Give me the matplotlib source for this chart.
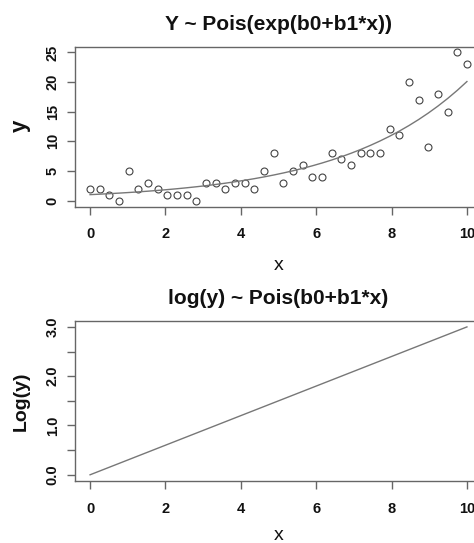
import numpy as np
import matplotlib
matplotlib.use("Agg")
import matplotlib.pyplot as plt

plt.rcParams['font.family'] = ['Liberation Sans', 'DejaVu Sans']

# Data
x_vals = np.linspace(0, 10, 40)
y_counts = [2, 2, 1, 0, 5, 2, 3, 2, 1, 1,
            1, 0, 3, 3, 2, 3, 3, 2, 5, 8,
            3, 5, 6, 4, 4, 8, 7, 6, 8, 8,
            8, 12, 11, 20, 17, 9, 18, 15, 25, 23]
b0 = 0.0   # fitted intercept (log scale)
b1 = 0.3   # fitted slope (log scale)

top_yticks = [0, 5, 10, 15, 20, 25]
bot_yticks = [0.0, 0.5, 1.0, 1.5, 2.0, 2.5, 3.0]
bot_ylabels = ["0.0", "", "1.0", "", "2.0", "", "3.0"]
xticks = [0, 2, 4, 6, 8, 10]

log_fit = b0 + b1 * x_vals
fit = np.exp(log_fit)

fig = plt.figure(figsize=(4.74, 5.43), dpi=100)
W, H = 474, 543

def axes_px(left, top, right, bottom):
    return fig.add_axes([left / W, 1 - bottom / H, (right - left) / W, (bottom - top) / H])

def fig_text(xp, yp, s, **kw):
    fig.text(xp / W, 1 - yp / H, s, ha='center', va='center', **kw)

ax1 = axes_px(75, 46.5, 482, 206.5)
ax2 = axes_px(75, 321, 482, 480.7)

spine_col = '#666666'
text_col = '#111111'
for ax in (ax1, ax2):
    for s in ax.spines.values():
        s.set_color(spine_col)
        s.set_linewidth(1.0)
    ax.set_xlim(-0.4, 10.4)
    ax.set_xticks(xticks)
    ax.set_xticklabels([str(t) for t in xticks])
    ax.tick_params(axis='both', colors=spine_col, labelcolor=text_col,
                   length=6, width=1.0, labelsize=10.5)
    ax.tick_params(axis='x', pad=9)
    ax.tick_params(axis='y', pad=5)
    for lab in ax.get_xticklabels() + ax.get_yticklabels():
        lab.set_fontweight('bold')

ax1.plot(x_vals, y_counts, 'o', mfc='none', mec='#444444', ms=5, mew=0.8)
ax1.plot(x_vals, fit, '-', color='#777777', lw=1.0)
ax1.set_ylim(-1, 26)
ax1.set_yticks(top_yticks)
ax1.set_yticklabels([str(t) for t in top_yticks], rotation=90, va='center', fontweight='bold')

ax2.plot(x_vals, log_fit, '-', color='#777777', lw=1.0)
ax2.set_ylim(-0.12, 3.12)
ax2.set_yticks(bot_yticks)
ax2.set_yticklabels(bot_ylabels, rotation=90, va='center', fontweight='bold')

title_kw = dict(fontsize=15, fontweight='bold', color=text_col)
label_kw = dict(fontsize=14, color=text_col)
fig_text(278.5, 25, "Y ~ Pois(exp(b0+b1*x))", **title_kw)
fig_text(278.5, 298, "log(y) ~ Pois(b0+b1*x)", **title_kw)
fig_text(279, 265, "x", **label_kw)
fig_text(279, 536, "x", **label_kw)
fig_text(20, 126, "y", rotation=90, fontweight='bold', fontsize=16, color=text_col)
fig_text(21, 401, "Log(y)", rotation=90, fontweight='bold', **label_kw)

fig.savefig("out.png", dpi=100)
